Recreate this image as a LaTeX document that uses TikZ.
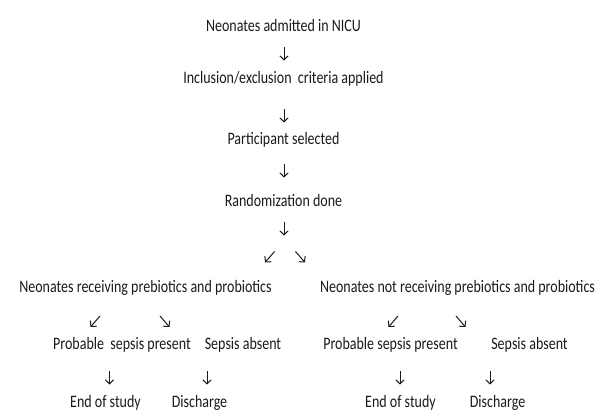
\documentclass[tikz,border=0pt]{standalone}
\usepackage{fontspec}
\setmainfont{Carlito}[FakeStretch=0.80]
\usetikzlibrary{arrows.meta}
\definecolor{ink}{HTML}{1A1A1A}
\tikzset{
  lbl/.style={anchor=base, inner sep=0pt, text=ink, font=\fontsize{17.5}{20}\selectfont},
  arr/.style={draw=ink, line width=1pt, -{Straight Barb[length=4pt,width=8.4pt,line width=1pt]}}
}
\begin{document}
\begin{tikzpicture}[x=1pt,y=-1pt]
\useasboundingbox (0,0) rectangle (598,411);
% main column
\node[lbl] (n1) at (283.5,32) {Neonates admitted in NICU};
\node[lbl] (n2) at (283.5,84) {Inclusion/exclusion\ \ criteria applied};
\node[lbl] (n3) at (283.5,145) {Participant selected};
\node[lbl] (n4) at (283.5,207) {Randomization done};
% groups
\node[lbl] (gl) at (145.5,293) {Neonates receiving prebiotics and probiotics};
\node[lbl] (gr) at (457.5,293) {Neonates not receiving prebiotics and probiotics};
% outcomes
\node[lbl] (lp) at (122,350) {Probable\ \ sepsis present};
\node[lbl] (ls) at (243,350) {Sepsis absent};
\node[lbl] (rp) at (390.5,350) {Probable sepsis present};
\node[lbl] (rs) at (529.5,350) {Sepsis absent};
\node[lbl] (le) at (105.5,407.5) {End of study};
\node[lbl] (ld) at (199.5,407.5) {Discharge};
\node[lbl] (re) at (400.5,407.5) {End of study};
\node[lbl] (rd) at (497.5,407.5) {Discharge};
% arrow end points
\coordinate (a1s) at (284,47.5);  \coordinate (a1e) at (284,60.5);
\coordinate (a2s) at (284,109.5); \coordinate (a2e) at (284,122.5);
\coordinate (a3s) at (284,164.5); \coordinate (a3e) at (284,177.5);
\coordinate (a4s) at (284,222.5); \coordinate (a4e) at (284,235.5);
\coordinate (d1s) at (274.5,251.5); \coordinate (d1e) at (265,262.5);
\coordinate (d2s) at (295.5,251.5); \coordinate (d2e) at (305,262.5);
\coordinate (d3s) at (100,316); \coordinate (d3e) at (90.5,327);
\coordinate (d4s) at (160,316); \coordinate (d4e) at (169.5,327);
\coordinate (d5s) at (398,316); \coordinate (d5e) at (388.5,327);
\coordinate (d6s) at (456,316); \coordinate (d6e) at (465.5,327);
\coordinate (b1s) at (109.5,371.5); \coordinate (b1e) at (109.5,384.5);
\coordinate (b2s) at (207,371.5); \coordinate (b2e) at (207,384.5);
\coordinate (b3s) at (400,371.5); \coordinate (b3e) at (400,384.5);
\coordinate (b4s) at (490,371.5); \coordinate (b4e) at (490,384.5);
\foreach \p in {a1,a2,a3,a4,d1,d2,d3,d4,d5,d6,b1,b2,b3,b4}
  \draw[arr] (\p s) -- (\p e);
\end{tikzpicture}
\end{document}
